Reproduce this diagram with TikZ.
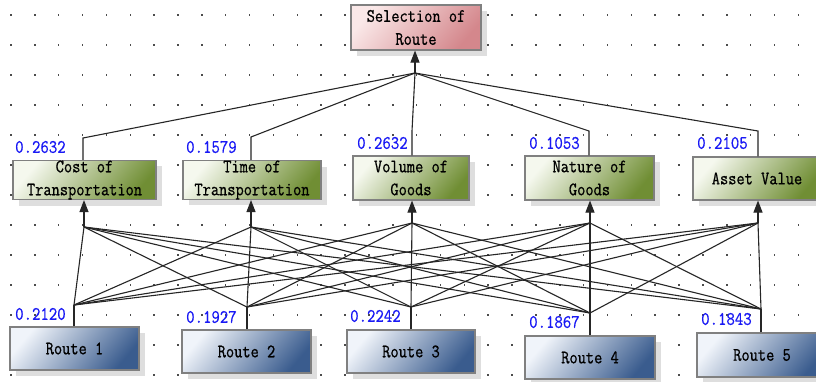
\documentclass[tikz,border=0pt]{standalone}
\usepackage{fontspec}
\usetikzlibrary{shadows,arrows.meta}
\definecolor{goalA}{RGB}{250,232,232}
\definecolor{goalB}{RGB}{212,135,140}
\definecolor{critA}{RGB}{245,248,238}
\definecolor{critB}{RGB}{112,142,52}
\definecolor{routeA}{RGB}{240,244,250}
\definecolor{routeB}{RGB}{58,92,142}
\definecolor{wblue}{RGB}{25,25,245}
\newfontfamily\boxmono{Latin Modern Mono}[FakeStretch=0.84, FakeBold=0.8]
\newfontfamily\nummono{Latin Modern Mono}[FakeStretch=0.86, FakeBold=0.5]
\newcommand\txtfont{\boxmono\fontsize{19}{23}\selectfont}
\newcommand\numfont{\nummono\fontsize{19}{20}\selectfont}
\begin{document}
\begin{tikzpicture}[x=1pt,y=-1pt,
  boxbase/.style={draw=black!50, line width=1.1pt, align=center, font=\txtfont, inner sep=0pt,
     drop shadow={shadow xshift=6pt, shadow yshift=-6pt, fill=black!13, opacity=1}},
  goalbox/.style={boxbase, top color=goalA, bottom color=goalB, shading angle=50},
  critbox/.style={boxbase, top color=critA, bottom color=critB, shading angle=50},
  routebox/.style={boxbase, top color=routeA, bottom color=routeB, shading angle=50},
  wlabel/.style={anchor=west, inner sep=0pt, text=wblue, font=\numfont},
  link/.style={draw=black!85, line width=1.1pt},
  arr/.style={link, -{Triangle[length=12pt,width=9pt]}}
]
\clip (0,0) rectangle (816,381);
\fill[white] (0,0) rectangle (816,381);
% dot grid
\foreach \i in {0,...,33}{
  \foreach \j in {0,...,12}{
    \fill[black!70] ({11+23.86*\i-0.75},{15+30*\j-0.75}) rectangle ++(1.5,1.5);
  }
}
% hub coordinates
\coordinate (gh) at (415,73);
\coordinate (cb1) at (83,138);
\coordinate (cb2) at (251,137);
\coordinate (cb3) at (412,131);
\coordinate (cb4) at (589,131);
\coordinate (cb5) at (758,131);
\coordinate (ch1) at (84,227);
\coordinate (ch2) at (251,227);
\coordinate (ch3) at (412,223);
\coordinate (ch4) at (590,223);
\coordinate (ch5) at (758,223);
\coordinate (rh1) at (74,305);
\coordinate (rh2) at (247,307);
\coordinate (rh3) at (411,307);
\coordinate (rh4) at (590,313);
\coordinate (rh5) at (761,309);
% route to criteria links
\foreach \r in {1,...,5}{
  \foreach \c in {1,...,5}{
    \draw[link] (rh\r) -- (ch\c);
  }
}
% goal
\node[goalbox, minimum width=130pt, minimum height=45pt] (g) at (416,27.5) {Selection of\\Route};
% criteria
\node[critbox, minimum width=143pt, minimum height=38pt] (c1) at (84.5,180) {Cost of\\Transportation};
\node[critbox, minimum width=138pt, minimum height=38pt] (c2) at (252,180) {Time of\\Transportation};
\node[critbox, minimum width=116pt, minimum height=44pt] (c3) at (411,178) {Volume of\\Goods};
\node[critbox, minimum width=129pt, minimum height=44pt] (c4) at (589.5,178) {Nature of\\Goods};
\node[critbox, minimum width=128pt, minimum height=43pt] (c5) at (757,178.5) {Asset Value};
% routes
\node[routebox, minimum width=129pt, minimum height=43pt] (r1) at (74.5,348.5) {Route 1};
\node[routebox, minimum width=129pt, minimum height=43pt] (r2) at (246.5,351.5) {Route 2};
\node[routebox, minimum width=128pt, minimum height=43pt] (r3) at (411,351.5) {Route 3};
\node[routebox, minimum width=130pt, minimum height=43pt] (r4) at (590,357.5) {Route 4};
\node[routebox, minimum width=130pt, minimum height=44pt] (r5) at (762,355) {Route 5};
% criteria to goal
\foreach \c in {1,...,5}{
  \draw[link] (c\c.north -| cb\c) -- (cb\c) -- (gh);
}
\draw[arr] (gh) -- (gh |- g.south);
% arrows into criteria
\foreach \c in {1,...,5}{
  \draw[arr] (ch\c) -- (ch\c |- c\c.south);
}
% routes up to hubs
\foreach \r in {1,...,5}{
  \draw[link] (r\r.north -| rh\r) -- (rh\r);
}
% weights
\node[wlabel] (w1) at (15,147) {0.2632};
\node[wlabel] (w2) at (186,147) {0.1579};
\node[wlabel] (w3) at (357,143) {0.2632};
\node[wlabel] (w4) at (529,143) {0.1053};
\node[wlabel] (w5) at (697,143) {0.2105};
\node[wlabel] (v1) at (15,314) {0.2120};
\node[wlabel] (v2) at (186,317) {0.1927};
\node[wlabel] (v3) at (350,316) {0.2242};
\node[wlabel] (v4) at (529,322) {0.1867};
\node[wlabel] (v5) at (701,319) {0.1843};
\end{tikzpicture}
\end{document}
